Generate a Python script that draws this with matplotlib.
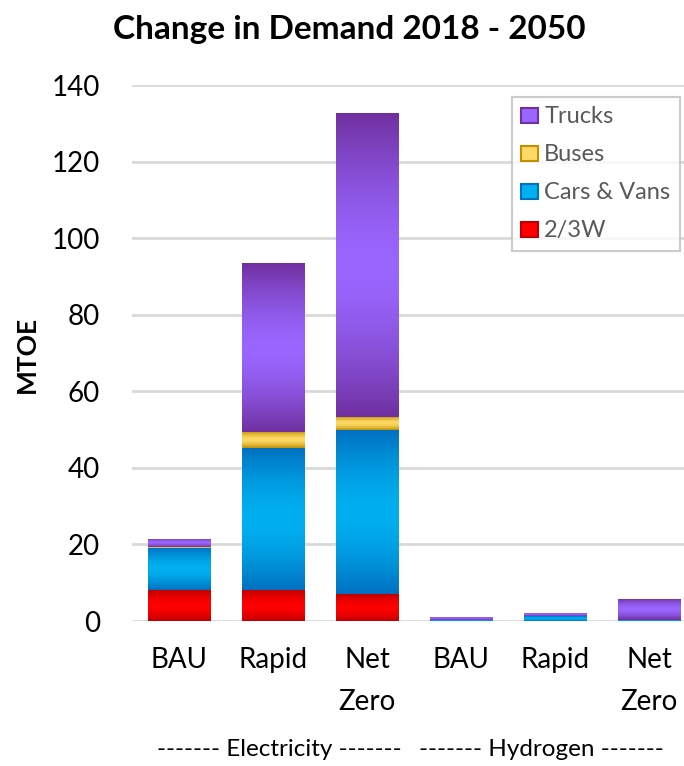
import numpy as np
import matplotlib
matplotlib.use("Agg")
import matplotlib.pyplot as plt
from matplotlib.colors import to_rgb
from matplotlib.patches import Rectangle

plt.rcParams['font.family'] = ['Lato', 'DejaVu Sans']

categories = ["BAU", "Rapid", "Net\nZero", "BAU", "Rapid", "Net\nZero"]
groups = ["------- Electricity -------", "------- Hydrogen -------"]
series = ["2/3W", "Cars & Vans", "Buses", "Trucks"]
w23 = [8.0, 8.0, 7.0, 0.0, 0.0, 0.0]
cars = [11.0, 37.2, 42.8, 0.2, 1.3, 0.2]
buses = [0.3, 4.2, 3.6, 0.0, 0.0, 0.0]
trucks = [2.2, 44.1, 79.2, 0.8, 0.8, 5.5]
values = [w23, cars, buses, trucks]
yticks = [0, 20, 40, 60, 80, 100, 120, 140]

edge_cols = ["#C00000", "#0070C0", "#BF9000", "#7030A0"]
mid_cols = ["#FF0000", "#00B0F0", "#FFD966", "#9966FF"]

W, H = 684, 766
fig = plt.figure(figsize=(W / 100, H / 100), dpi=100)
ax = fig.add_axes([132 / W, (H - 621) / H, 564 / W, 536 / H])

def gradient(edge, mid, n=128):
    e = np.array(to_rgb(edge)); m = np.array(to_rgb(mid))
    t = np.abs(np.linspace(-1, 1, n)) ** 1.6
    return (m[None, :] * (1 - t[:, None]) + e[None, :] * t[:, None])[:, None, :]

x = np.arange(len(categories))
bottom = np.zeros(len(categories))
handles = []
for vals, ec, mc, name in zip(values, edge_cols, mid_cols, series):
    bars = ax.bar(x, vals, width=0.67, bottom=bottom, color='none', edgecolor='none', zorder=2)
    img = gradient(ec, mc)
    for b in bars:
        if b.get_height() <= 0:
            continue
        x0, y0 = b.get_x(), b.get_y()
        im = ax.imshow(img, extent=(x0, x0 + b.get_width(), y0, y0 + b.get_height()),
                       aspect='auto', origin='upper', zorder=2, interpolation='bilinear')
        im.set_clip_path(b)
    bottom += np.array(vals)
    handles.append(Rectangle((0, 0), 1, 1, facecolor=mc, edgecolor=ec, linewidth=1.5, label=name))

ax.set_xlim(-0.5, 5.5)
ax.set_ylim(0, 140)
ax.set_yticks(yticks)
ax.set_yticklabels([str(v) for v in yticks], fontsize=20)
ax.set_xticks(x)
ax.set_xticklabels(categories, fontsize=20, linespacing=1.75, va='top')
ax.tick_params(axis='both', length=0)
ax.tick_params(axis='x', pad=19)
ax.tick_params(axis='y', pad=23)
ax.grid(axis='y', color='#D9D9D9', linewidth=2, zorder=0)
ax.set_axisbelow(True)
for s in ax.spines.values():
    s.set_visible(False)

fig.text(27 / W, 1 - 354 / H, "MTOE", rotation=90, ha='center', va='center',
         fontsize=19, fontweight='bold')

leg = ax.legend(handles=handles[::-1], loc='upper left', bbox_to_anchor=(512 / W, (H - 97) / H),
                bbox_transform=fig.transFigure, borderaxespad=0, fontsize=17, frameon=True,
                fancybox=False, handlelength=0.72, handleheight=0.6, handletextpad=0.25,
                labelspacing=0.72, borderpad=0.4, labelcolor='#595959')
leg.get_frame().set_edgecolor('#BFBFBF')
leg.get_frame().set_linewidth(1.5)

fig.text(349 / W, 1 - 30 / H, "Change in Demand 2018 - 2050", ha='center', va='center',
         fontsize=24, fontweight='bold')
fig.text(279 / W, 1 - 750 / H, groups[0], ha='center', va='center', fontsize=17.5)
fig.text(541 / W, 1 - 750 / H, groups[1], ha='center', va='center', fontsize=17.5)

fig.savefig("out.png", dpi=100)
